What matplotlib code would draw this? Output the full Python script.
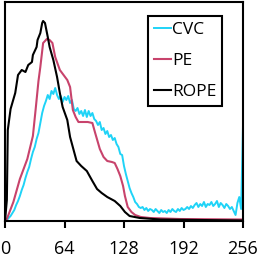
import matplotlib
matplotlib.use("Agg")
import matplotlib.pyplot as plt

plt.rcParams['font.family'] = ['Open Sans', 'DejaVu Sans']

# CVC histogram, bins every 2 units (heights in arbitrary counts)
cvc_x = list(range(0, 257, 2))
cvc_y = [0, 1, 3, 5, 8, 11, 16, 20, 25, 31,
         36, 43, 49, 54, 62, 69, 74, 82, 88, 98,
         108, 115, 120, 126, 122, 130, 127, 133, 126, 122,
         125, 119, 124, 121, 125, 118, 121, 112, 110, 113,
         107, 110, 105, 111, 104, 110, 105, 108, 102, 100,
         96, 99, 91, 93, 87, 90, 84, 86, 81, 83,
         77, 74, 67, 66, 55, 47, 40, 33, 28, 24,
         19, 17, 14, 13, 14, 11, 13, 10, 12, 11,
         9, 12, 10, 8, 11, 9, 10, 8, 11, 9,
         12, 10, 9, 12, 10, 13, 11, 12, 14, 12,
         15, 13, 16, 18, 14, 17, 15, 19, 14, 17,
         16, 19, 15, 17, 20, 14, 18, 16, 13, 17,
         15, 12, 14, 10, 6, 18, 24, 12, 96]

pe_x = [0, 2, 9, 16, 24, 30, 33, 36, 38, 41, 45, 48, 51, 54, 59, 63, 67, 70,
        73, 76, 79, 84, 89, 94, 97, 102, 106, 110, 115, 118, 121, 124, 127,
        129, 132, 136, 140, 146, 156, 188, 256]
pe_y = [0, 2, 19, 42, 62, 85, 112, 140, 154, 178, 182, 181, 178, 164, 151,
        146, 141, 134, 111, 104, 99, 99, 99, 98, 88, 72, 64, 60, 59, 58, 52,
        45, 35, 25, 14, 9, 6, 4, 3, 2, 1.5]

rope_x = [0, 2, 3, 6, 11, 14, 18, 22, 25, 29, 30, 34, 35, 38, 40, 41, 43, 46,
          48, 52, 56, 59, 62, 67, 70, 77, 82, 88, 94, 99, 104, 110, 118, 124,
          129, 134, 145, 167, 210, 256]
rope_y = [0, 21, 91, 112, 128, 146, 151, 149, 156, 159, 166, 174, 181, 188,
          198, 200, 198, 184, 174, 161, 144, 128, 114, 101, 84, 60, 55, 50,
          40, 32, 28, 24, 20, 15, 9, 5, 3, 1.5, 1, 0.5]

fig = plt.figure(figsize=(2.6, 2.58), dpi=100)
ax = fig.add_axes([5/260, 37/258, 238/260, 219/258])

ax.plot(cvc_x, cvc_y, color='#1fd3f7', lw=1.4, label='CVC')
ax.plot(pe_x, pe_y, color='#c8436c', lw=1.5, label='PE')
ax.plot(rope_x, rope_y, color='black', lw=1.5, label='ROPE')

ax.set_xlim(0, 256)
ax.set_ylim(0, 219)
ax.set_xticks([0, 64, 128, 192, 256])
ax.tick_params(axis='x', direction='out', length=5, width=1.5, labelsize=13, pad=9)
ax.tick_params(axis='y', left=False, labelleft=False)
for s in ax.spines.values():
    s.set_linewidth(1.5)

leg = ax.legend(loc='upper left', bbox_to_anchor=(0.599, 0.936), borderaxespad=0,
                fontsize=12.5, handlelength=1.0, handletextpad=0.05, labelspacing=0.85,
                borderpad=0.35, fancybox=False, framealpha=1, edgecolor='black')
leg.get_frame().set_linewidth(1.5)

plt.savefig('out.png', dpi=100)
plt.close()
